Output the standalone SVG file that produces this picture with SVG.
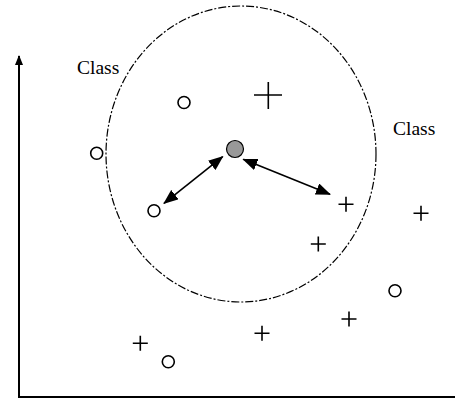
<svg xmlns="http://www.w3.org/2000/svg" width="455" height="402" viewBox="0 0 455 402">
<style>
.lbl{font-family:"Liberation Serif",serif;font-size:19.5px;fill:#000}
.o{fill:#fff;stroke:#000;stroke-width:1.6}
.p{stroke:#000;stroke-width:1.6;fill:none}
.ln{stroke:#000;stroke-width:1.6;fill:none}
</style>
<defs>
<marker id="ah" markerUnits="userSpaceOnUse" markerWidth="15" markerHeight="12" refX="14" refY="6" orient="auto-start-reverse" viewBox="0 0 15 12">
<path d="M0,0 L15,6 L0,12 Z" fill="#000"/>
</marker>
<marker id="ax" markerUnits="userSpaceOnUse" markerWidth="10" markerHeight="8" refX="9" refY="4" orient="auto" viewBox="0 0 10 8">
<path d="M0,0 L10,4 L0,8 Z" fill="#000"/>
</marker>
</defs>
<g id="axes">
<polyline class="ln" points="19,56 19,397 455,397" style="stroke-width:2"/>
<line class="ln" x1="19" y1="70" x2="19" y2="56" marker-end="url(#ax)" style="stroke-width:2"/>
</g>
<g id="boundary">
<ellipse cx="241" cy="154" rx="135" ry="148" fill="none" stroke="#000" stroke-width="1.2" stroke-dasharray="8,2,2,2"/>
</g>
<g id="labels">
<text class="lbl" x="77" y="74">Class</text>
<text class="lbl" x="393" y="135">Class</text>
</g>
<g id="circles">
<circle class="o" cx="184" cy="102.5" r="6"/>
<circle class="o" cx="96.7" cy="153.3" r="6"/>
<circle class="o" cx="154" cy="210.7" r="6"/>
<circle class="o" cx="395" cy="290.7" r="6"/>
<circle class="o" cx="168.3" cy="361.7" r="6"/>
</g>
<g id="query">
<circle cx="235" cy="149" r="8.5" fill="#999" stroke="#000" stroke-width="1.2"/>
</g>
<g id="pluses">
<path class="p" d="M254,95 h28 M268.3,82 v27"/>
<path class="p" d="M338.5,204.3 h15 M346,196.8 v15"/>
<path class="p" d="M413.5,213.3 h15 M421,205.8 v15"/>
<path class="p" d="M310.8,244 h15 M318.3,236.5 v15"/>
<path class="p" d="M341.5,319 h15 M349,311.5 v15"/>
<path class="p" d="M254.5,333.3 h15 M262,325.8 v15"/>
<path class="p" d="M132.8,343.3 h15 M140.3,335.8 v15"/>
</g>
<g id="connectors">
<line class="ln" x1="164" y1="203.3" x2="222.7" y2="156.7" marker-start="url(#ah)" marker-end="url(#ah)"/>
<line class="ln" x1="243.3" y1="159.3" x2="330" y2="194.3" marker-start="url(#ah)" marker-end="url(#ah)"/>
</g>
</svg>
